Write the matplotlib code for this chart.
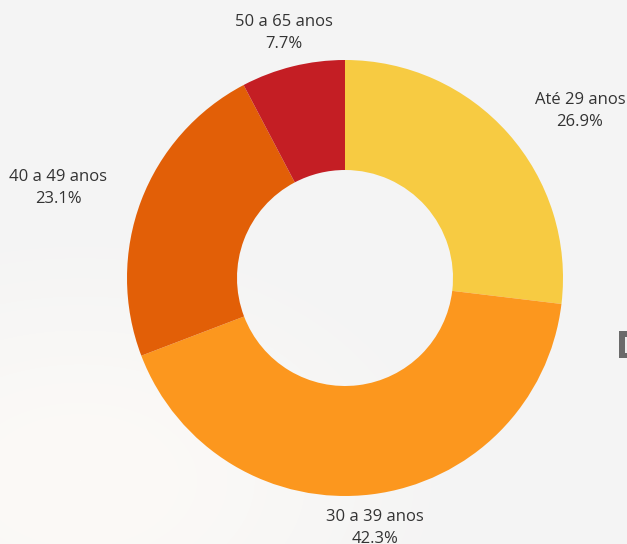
import matplotlib
matplotlib.use("Agg")
import matplotlib.pyplot as plt
import numpy as np

# data
categories = ["Até 29 anos", "30 a 39 anos", "40 a 49 anos", "50 a 65 anos"]
shares = [26.9, 42.3, 23.1, 7.7]
colors = ["#F7CB42", "#FC971E", "#E25F07", "#C41E24"]

# label centres in pixels (from top-left of the image)
label_px = [(580, 111), (375, 528), (58, 188), (284, 33)]

W, H = 627, 544
fig = plt.figure(figsize=(W / 100, H / 100), dpi=100)
fig.patch.set_facecolor("#F4F4F4")

# soft light wash over the lower-left of the background
bg = fig.add_axes([0, 0, 1, 1])
yy, xx = np.mgrid[0:H, 0:W]
d = np.sqrt(((xx - 80) / 450.0) ** 2 + ((yy - 480) / 300.0) ** 2)
a = np.clip(1.0 - d, 0, 1)
a = a * a * (3 - 2 * a)
top = np.array([0xF4, 0xF4, 0xF4]) / 255.0
warm = np.array([0xFC, 0xFA, 0xF7]) / 255.0
img = top[None, None, :] * (1 - a[..., None]) + warm[None, None, :] * a[..., None]
bg.imshow(img, extent=[0, W, H, 0], aspect="auto", interpolation="bilinear")
bg.set_xlim(0, W)
bg.set_ylim(H, 0)
bg.axis("off")
# small dark element at the right edge
bg.add_patch(plt.Rectangle((619, 331), 8, 27, color="#6A6A6A", lw=0))
bg.add_patch(plt.Rectangle((625, 337), 2, 16, color="#EDEDED", lw=0))

ax = fig.add_axes([0, 0, 1, 1])
ax.patch.set_alpha(0)

cx, cy, r = 345, H - 278, 218
ax.pie(shares, colors=colors, startangle=90, counterclock=False,
       center=(cx, cy), radius=r,
       wedgeprops=dict(width=110, linewidth=0))
ax.set_xlim(0, W)
ax.set_ylim(0, H)
ax.set_aspect("equal")
ax.axis("off")

for name, val, (px, py) in zip(categories, shares, label_px):
    ax.text(px, H - py, f"{name}\n{val}%", ha="center", va="center",
            fontsize=12, color="#333333", family=["Open Sans", "DejaVu Sans"],
            linespacing=1.45)

fig.savefig("out.png", dpi=100, facecolor=fig.get_facecolor())
